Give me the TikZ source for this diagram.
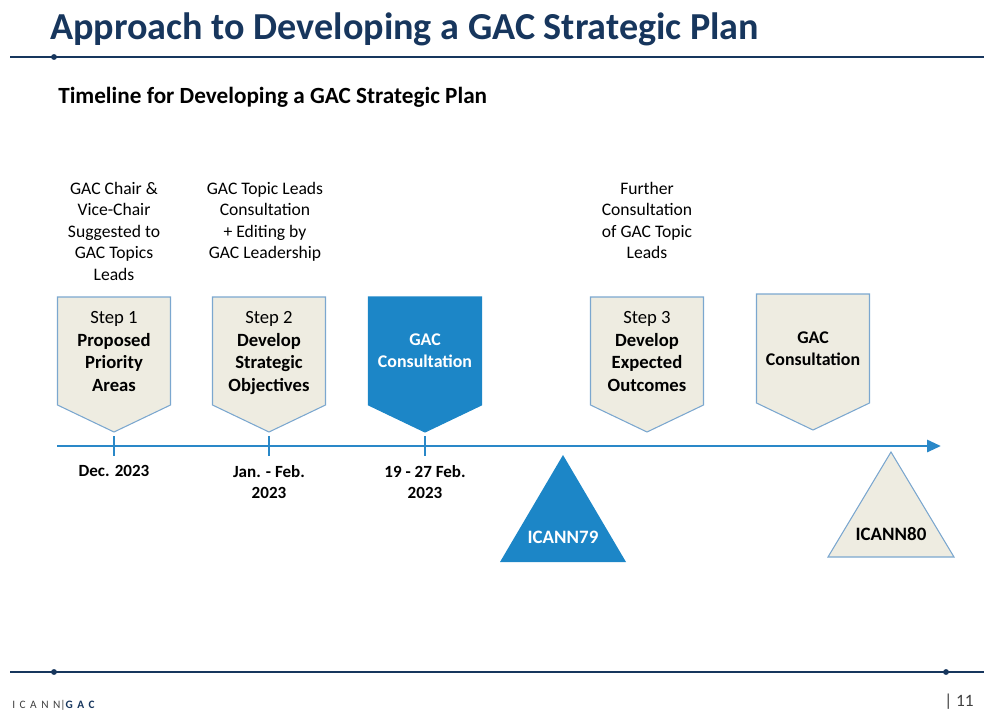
\documentclass[tikz,border=0pt]{standalone}
\usepackage{fontspec}
\setmainfont{Carlito}
\usetikzlibrary{arrows.meta}
\definecolor{navy}{HTML}{17365D}
\definecolor{tlblue}{HTML}{2A88C8}
\definecolor{boxblue}{HTML}{1C86C7}
\definecolor{beige}{HTML}{EEECE1}
\definecolor{edgeblue}{HTML}{7BA7CF}
\definecolor{footgray}{HTML}{404040}
\begin{document}
\begin{tikzpicture}[x=0.75pt,y=-0.75pt,
  rule/.style={draw=navy,line width=1.5pt},
  ruledot/.style={fill=navy},
  lightbox/.style={fill=beige,draw=edgeblue,line width=0.8pt},
  darkbox/.style={fill=boxblue,draw=boxblue,line width=0.8pt},
  boxtext/.style={anchor=north,inner sep=0pt,align=center,font=\fontsize{14}{17}\selectfont},
  note/.style={anchor=north,inner sep=0pt,align=center,font=\fontsize{13.2}{16.1}\selectfont},
  datetext/.style={anchor=north,inner sep=0pt,align=center,font=\bfseries\fontsize{12.8}{16.1}\selectfont},
  timeline/.style={draw=tlblue,line width=2.2pt},
  tick/.style={draw=tlblue,line width=2.2pt},
  tritext/.style={inner sep=0pt,font=\bfseries\fontsize{14.2}{16}\selectfont}]
\useasboundingbox (0,0) rectangle (984,711);

% page header
\node[anchor=base west,inner sep=0pt,text=navy,font=\bfseries\fontsize{28.6}{34}\selectfont] (title) at (50,39) {Approach to Developing a GAC Strategic Plan};
\coordinate (hl) at (10,57);
\coordinate (hr) at (984,57);
\draw[rule] (hl) -- (hr);
\fill[ruledot] (54,57) circle (2.2pt);
\node[anchor=base west,inner sep=0pt,font=\bfseries\fontsize{17.4}{20}\selectfont] (subtitle) at (58,103) {Timeline for Developing a GAC Strategic Plan};

% notes above the steps
\node[note] (n1) at (114,182) {GAC Chair \&\\Vice-Chair\\Suggested to\\GAC Topics\\Leads};
\node[note] (n2) at (265,182) {GAC Topic Leads\\Consultation\\+ Editing by\\GAC Leadership};
\node[note] (n3) at (647,182) {Further\\Consultation\\of GAC Topic\\Leads};

% step markers
\draw[lightbox] (57.5,297) -- (170.5,297) -- (170.5,405) -- (114,432) -- (57.5,405) -- cycle;
\node[boxtext] (s1) at (114,311) {Step 1\\\textbf{Proposed}\\\textbf{Priority}\\\textbf{Areas}};
\draw[lightbox] (212.5,297) -- (325.5,297) -- (325.5,405) -- (269,432) -- (212.5,405) -- cycle;
\node[boxtext] (s2) at (269,311) {Step 2\\\textbf{Develop}\\\textbf{Strategic}\\\textbf{Objectives}};
\draw[darkbox] (368.5,297) -- (481.5,297) -- (481.5,405) -- (425,432) -- (368.5,405) -- cycle;
\node[boxtext,text=white,font=\bfseries\fontsize{13.4}{16.5}\selectfont] (c1) at (425,334) {GAC\\Consultation};
\draw[lightbox] (590.5,297) -- (703.5,297) -- (703.5,405) -- (647,432) -- (590.5,405) -- cycle;
\node[boxtext] (s3) at (647,311) {Step 3\\\textbf{Develop}\\\textbf{Expected}\\\textbf{Outcomes}};
\draw[lightbox] (756.5,294) -- (869.5,294) -- (869.5,403) -- (813,430) -- (756.5,403) -- cycle;
\node[boxtext,font=\bfseries\fontsize{13.4}{16.5}\selectfont] (c2) at (813,332) {GAC\\Consultation};

% timeline
\coordinate (t0) at (57,446);
\coordinate (t1) at (941,446);
\draw[timeline,-{Triangle[length=10.5pt,width=9pt]}] (t0) -- (t1);
\draw[tick] (114,436) -- (114,456);
\draw[tick] (269,436) -- (269,456);
\draw[tick] (425,436) -- (425,456);

% dates
\node[datetext] (d1) at (114,465) {Dec. 2023};
\node[datetext] (d2) at (269,465) {Jan. - Feb.\\2023};
\node[datetext] (d3) at (425,465) {19 - 27 Feb.\\2023};

% ICANN meetings
\fill[boxblue] (563,455) -- (626,562) -- (500,562) -- cycle;
\node[tritext,text=white] (m79) at (563,537) {ICANN79};
\draw[lightbox] (891,452) -- (954,557) -- (828,557) -- cycle;
\node[tritext] (m80) at (891,534) {ICANN80};

% page footer
\coordinate (fl) at (10,672);
\coordinate (fr) at (984,672);
\draw[rule] (fl) -- (fr);
\fill[ruledot] (54,672) circle (2.2pt);
\fill[ruledot] (946,672) circle (2.2pt);
\node[anchor=base west,inner sep=0pt,font=\fontsize{8.5}{10}\selectfont\addfontfeatures{LetterSpace=40}] (logo) at (12,708) {\textcolor{footgray}{ICANN}\textcolor{footgray}{|}\textcolor{navy}{\textbf{GAC}}};
\node[anchor=base west,inner sep=0pt,text=footgray,font=\fontsize{13}{15}\selectfont] (page) at (944,706) {| 11};
\end{tikzpicture}
\end{document}
